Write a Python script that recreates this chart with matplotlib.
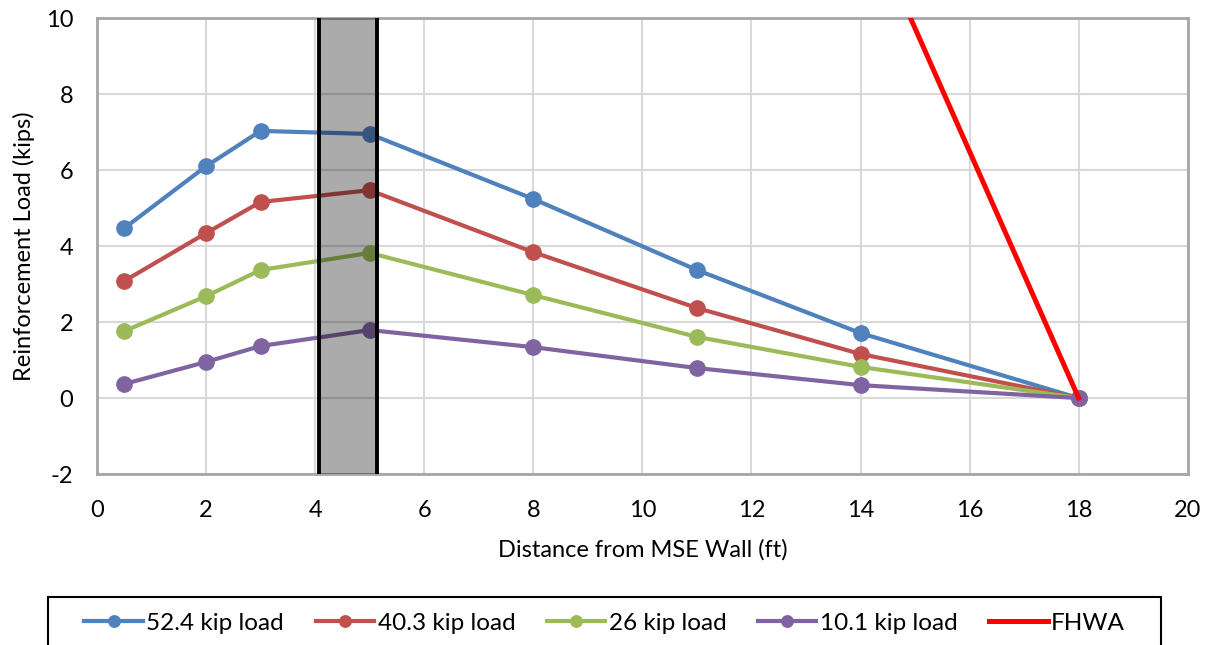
import matplotlib.pyplot as plt
from matplotlib.patches import Rectangle

plt.rcParams['font.family'] = ['Lato', 'DejaVu Sans']
plt.rcParams['axes.unicode_minus'] = False

# Data
distance = [0.5, 2, 3, 5, 8, 11, 14, 18]
load_52 = [4.47, 6.10, 7.03, 6.95, 5.24, 3.37, 1.71, 0.0]
load_40 = [3.08, 4.34, 5.16, 5.47, 3.84, 2.37, 1.16, 0.0]
load_26 = [1.76, 2.68, 3.37, 3.82, 2.71, 1.61, 0.82, 0.0]
load_10 = [0.37, 0.95, 1.37, 1.79, 1.34, 0.79, 0.34, 0.0]
fhwa_x = [18, 14.3]
fhwa_y = [0, 12]
band_x = [4.07, 5.14]

series = [
    ("52.4 kip load", load_52, "#4f81bd"),
    ("40.3 kip load", load_40, "#c0504d"),
    ("26 kip load", load_26, "#9bbb59"),
    ("10.1 kip load", load_10, "#8064a2"),
]

fig = plt.figure(figsize=(12.12, 6.45), dpi=100)
ax = fig.add_axes([0.080, 0.265, 0.900, 0.707])

for label, vals, color in series:
    ax.plot(distance, vals, color=color, lw=3, marker='o', markersize=11,
            label=label, zorder=3)
ax.plot(fhwa_x, fhwa_y, color='#ff0000', lw=3.6, label='FHWA', zorder=4)

# shaded zone drawn over the lines
ax.axvspan(band_x[0], band_x[1], color='black', alpha=0.33, lw=0, zorder=5)
for bx in band_x:
    ax.axvline(bx, color='black', lw=2.8, zorder=6)

ax.set_xlim(0, 20)
ax.set_ylim(-2, 10)
ax.set_xticks(range(0, 21, 2))
ax.set_yticks(range(-2, 11, 2))
ax.grid(True, color='#d9d9d9', lw=1.5)
ax.set_axisbelow(True)
ax.tick_params(length=0, labelsize=17)
ax.tick_params(axis='x', pad=19)
ax.tick_params(axis='y', pad=17)
for s in ax.spines.values():
    s.set_color('#a6a6a6')
    s.set_linewidth(2)

ax.set_xlabel("Distance from MSE Wall (ft)", fontsize=17, labelpad=13)
ax.set_ylabel("Reinforcement Load (kips)", fontsize=17, labelpad=8)

# legend box (runs off the bottom edge like in the original)
fig.patches.append(Rectangle((0.0396, -0.05), 0.918, 0.1244,
                             transform=fig.transFigure, fill=False,
                             edgecolor='black', lw=1.5))
fig.legend(loc='center', bbox_to_anchor=(0.499, 0.0335), ncol=5,
           fontsize=17.5, frameon=False, handlelength=2.4,
           handletextpad=0.15, columnspacing=1.3, markerscale=0.75)

fig.savefig("out.png", dpi=100)
